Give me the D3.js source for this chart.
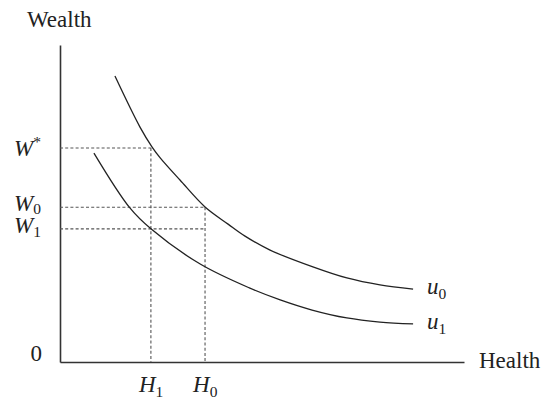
<!DOCTYPE html>
<html>
<head>
<meta charset="utf-8">
<script src="https://cdn.jsdelivr.net/npm/d3@7"></script>
<style>
  html, body { margin: 0; padding: 0; background: #fff; }
  svg text { font-family: "Liberation Serif", "Times New Roman", serif; fill: #222; }
</style>
</head>
<body>
<svg id="chart" width="545" height="402"></svg>
<script>
// Indifference curve u0 (health, wealth) in chart units 0..100
const u0Health = [13.6, 19.8, 22.8, 24.8, 29.7, 35.9, 41.6, 45.8, 52.0, 62.6, 71.0, 79.2, 87.4];
const u0Wealth = [90.2, 74.1, 67.8, 64.4, 57.4, 48.9, 43.5, 39.7, 35.3, 30.0, 26.5, 24.3, 23.0];
// Indifference curve u1
const u1Health = [8.4, 17.3, 22.5, 34.7, 47.0, 54.5, 62.4, 71.0, 79.2, 87.4];
const u1Wealth = [65.9, 48.6, 42.0, 30.9, 23.3, 19.6, 16.4, 13.9, 12.6, 12.0];
// Reference levels
const wealthLevels = { Wstar: 67.5, W0: 48.8, W1: 42.0 };
const healthLevels = { H1: 22.5, H0: 35.9 };
const axisLabels = { x: "Health", y: "Wealth", origin: "0" };
const curveLabels = ["u0", "u1"];

const svg = d3.select("#chart");
const x = d3.scaleLinear().domain([0, 100]).range([60, 464]);
const y = d3.scaleLinear().domain([0, 100]).range([362, 45]);

// Axes (domain lines only)
svg.append("g").attr("transform", `translate(0,${y(0)})`)
  .call(d3.axisBottom(x).tickValues([]).tickSizeOuter(0));
svg.append("g").attr("transform", `translate(${x(0)},0)`)
  .call(d3.axisLeft(y).tickValues([]).tickSizeOuter(0));
svg.selectAll(".domain").attr("stroke", "#333").attr("stroke-width", 1.6);

// Dashed guides
const dash = { stroke: "#555", "stroke-width": 1.1, "stroke-dasharray": "3,2.2", fill: "none" };
function guide(x1, y1, x2, y2) {
  const l = svg.append("line")
    .attr("x1", x(x1)).attr("y1", y(y1)).attr("x2", x(x2)).attr("y2", y(y2));
  Object.entries(dash).forEach(([k, v]) => l.attr(k, v));
}
guide(0, wealthLevels.Wstar, healthLevels.H1, wealthLevels.Wstar);
guide(healthLevels.H1, wealthLevels.Wstar, healthLevels.H1, 0);
guide(0, wealthLevels.W0, healthLevels.H0, wealthLevels.W0);
guide(0, wealthLevels.W1, healthLevels.H0, wealthLevels.W1);
guide(healthLevels.H0, wealthLevels.W0, healthLevels.H0, 0);

// Curves
const line = d3.line().x(d => x(d[0])).y(d => y(d[1])).curve(d3.curveCatmullRom.alpha(0.5));
const u0 = u0Health.map((h, i) => [h, u0Wealth[i]]);
const u1 = u1Health.map((h, i) => [h, u1Wealth[i]]);
[u0, u1].forEach(pts => {
  svg.append("path").attr("d", line(pts))
    .attr("fill", "none").attr("stroke", "#222").attr("stroke-width", 1.3);
});

// Text helpers
const FS = 23, SUB = 15.5;
function label(px, py, main, sub, sup, italic, subDy) {
  const t = svg.append("text").attr("x", px).attr("y", py).attr("font-size", FS);
  t.append("tspan").text(main).attr("font-style", italic ? "italic" : "normal");
  if (sub) t.append("tspan").text(sub).attr("font-size", SUB).attr("dy", subDy || 5);
  if (sup) t.append("tspan").text(sup).attr("font-size", SUB).attr("dy", -9);
  return t;
}

// Axis titles
label(27, 27, axisLabels.y);
label(479, 368, axisLabels.x);
svg.append("text").attr("x", 42).attr("y", 361).attr("font-size", FS)
  .attr("text-anchor", "end").text(axisLabels.origin);

// Wealth level labels
label(14, y(wealthLevels.Wstar) + 8, "W", null, "*", true);
label(14, y(wealthLevels.W0) + 3.5, "W", "0", null, true, 3);
label(14, y(wealthLevels.W1) + 4, "W", "1", null, true, 4);

// Health level labels
label(x(healthLevels.H1) - 12, 392, "H", "1", null, true);
label(x(healthLevels.H0) - 12, 392, "H", "0", null, true);

// Curve labels
const ends = [u0[u0.length - 1], u1[u1.length - 1]];
ends.forEach((e, i) => {
  label(x(e[0]) + 14, y(e[1]) + 5, curveLabels[i][0], curveLabels[i][1], null, true);
});
</script>
</body>
</html>
